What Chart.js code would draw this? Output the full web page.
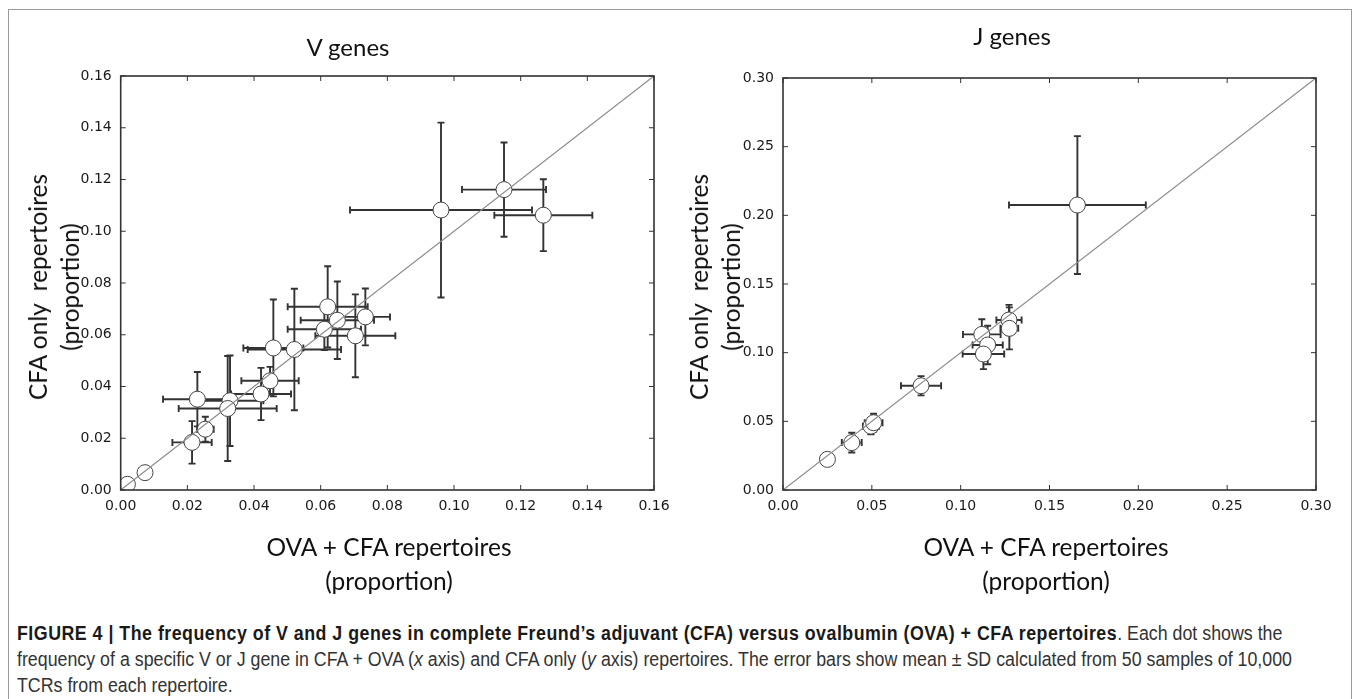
<!DOCTYPE html>
<html>
<head>
<meta charset="utf-8">
<title>Figure 4</title>
<script src="https://cdn.jsdelivr.net/npm/chart.js@4.4.1/dist/chart.umd.min.js"></script>
<style>
  body { margin: 0; background: #fff; }
  #page { position: relative; width: 1357px; height: 699px; overflow: hidden; font-family: Lato, "Open Sans", sans-serif; color: #111; }
  .frame { position: absolute; left: 8px; top: 9px; width: 1342px; height: 720px; border: 1px solid #9a9a9a; }
  canvas { position: absolute; top: 0; }
  .title { position: absolute; font-size: 24px; line-height: 24px; white-space: nowrap; transform: translateX(-50%); }
  .xlab { position: absolute; font-size: 24.5px; line-height: 34px; text-align: center; white-space: nowrap; transform: translateX(-50%); }
  .ylab { position: absolute; font-size: 24.5px; line-height: 32px; text-align: center; white-space: pre; transform: translate(-50%, -50%) rotate(-90deg); }
  .caption { position: absolute; left: 17px; top: 620px; font-family: "Liberation Sans", Arial, sans-serif; font-size: 20px; line-height: 26px; color: #333; white-space: nowrap; transform: scaleX(0.89); transform-origin: 0 0; }
  .caption b { color: #1a1a1a; letter-spacing: 0.55px; }
</style>
</head>
<body>
<div id="page">
  <div class="frame"></div>
  <canvas id="vChart" width="680" height="600" style="left:0"></canvas>
  <canvas id="jChart" width="677" height="600" style="left:680px"></canvas>

  <div class="title" style="left:348px; top:35px">V genes</div>
  <div class="title" style="left:1012px; top:24px">J genes</div>

  <div class="ylab" style="left:54px; top:287px">CFA only  repertoires
(proportion)</div>
  <div class="ylab" style="left:715px; top:287px">CFA only  repertoires
(proportion)</div>

  <div class="xlab" style="left:389px; top:530px">OVA + CFA repertoires<br>(proportion)</div>
  <div class="xlab" style="left:1046px; top:530px">OVA + CFA repertoires<br>(proportion)</div>

  <div class="caption">
    <b>FIGURE 4 | The frequency of V and J genes in complete Freund’s adjuvant (CFA) versus ovalbumin (OVA) + CFA repertoires</b>. Each dot shows the<br>
    frequency of a specific V or J gene in CFA + OVA (<i>x</i> axis) and CFA only (<i>y</i> axis) repertoires. The error bars show mean ± SD calculated from 50 samples of 10,000<br>
    TCRs from each repertoire.
  </div>
</div>

<script>
// V genes: OVA + CFA (x) vs CFA only (y), mean and SD
const vX    = [0.0020, 0.0073, 0.0214, 0.0254, 0.0230, 0.0328, 0.0321, 0.0421, 0.0448, 0.0458, 0.0521, 0.0611, 0.0621, 0.0650, 0.0704, 0.0734, 0.0961, 0.1150, 0.1268];
const vY    = [0.0022, 0.0067, 0.0184, 0.0235, 0.0351, 0.0345, 0.0315, 0.0371, 0.0422, 0.0549, 0.0543, 0.0621, 0.0708, 0.0656, 0.0596, 0.0669, 0.1082, 0.1161, 0.1062];
const vXsd  = [0.0005, 0.0018, 0.0059, 0.0025, 0.0103, 0.0100, 0.0147, 0.0090, 0.0086, 0.0090, 0.0140, 0.0110, 0.0120, 0.0110, 0.0120, 0.0074, 0.0273, 0.0126, 0.0147];
const vYsd  = [0.0005, 0.0012, 0.0082, 0.0048, 0.0105, 0.0175, 0.0203, 0.0101, 0.0054, 0.0187, 0.0235, 0.0080, 0.0157, 0.0150, 0.0160, 0.0110, 0.0338, 0.0182, 0.0139];
const vTicks = [0, 0.02, 0.04, 0.06, 0.08, 0.10, 0.12, 0.14, 0.16];

// J genes
const jX    = [0.0250, 0.0387, 0.0495, 0.0510, 0.0777, 0.1119, 0.1152, 0.1128, 0.1272, 0.1274, 0.1657];
const jY    = [0.0223, 0.0345, 0.0465, 0.0490, 0.0759, 0.1133, 0.1056, 0.0990, 0.1238, 0.1177, 0.2075];
const jXsd  = [0.0010, 0.0056, 0.0045, 0.0050, 0.0113, 0.0106, 0.0085, 0.0117, 0.0071, 0.0050, 0.0385];
const jYsd  = [0.0010, 0.0072, 0.0060, 0.0065, 0.0070, 0.0110, 0.0140, 0.0110, 0.0110, 0.0153, 0.0502];
const jTicks = [0, 0.05, 0.10, 0.15, 0.20, 0.25, 0.30];

const CAP = 3.5;        // half width of error bar caps
const TICK_LEN = 5;     // inward tick marks

// error bars are drawn under the circles, from each point's sd
const errorBars = {
  id: 'errorBars',
  beforeDatasetsDraw(chart) {
    const { ctx, chartArea: a, scales: { x, y } } = chart;
    const ds = chart.data.datasets[1];
    ctx.save();
    ctx.beginPath();
    ctx.rect(a.left, a.top, a.right - a.left, a.bottom - a.top);
    ctx.clip();
    ctx.strokeStyle = '#333';
    ctx.lineWidth = 1.9;
    ds.data.forEach((p, i) => {
      const px = x.getPixelForValue(p.x);
      const py = y.getPixelForValue(p.y);
      const x0 = x.getPixelForValue(p.x - ds.xErr[i]);
      const x1 = x.getPixelForValue(p.x + ds.xErr[i]);
      const y0 = y.getPixelForValue(p.y - ds.yErr[i]);
      const y1 = y.getPixelForValue(p.y + ds.yErr[i]);
      ctx.beginPath();
      ctx.moveTo(x0, py); ctx.lineTo(x1, py);
      ctx.moveTo(x0, py - CAP); ctx.lineTo(x0, py + CAP);
      ctx.moveTo(x1, py - CAP); ctx.lineTo(x1, py + CAP);
      ctx.moveTo(px, y0); ctx.lineTo(px, y1);
      ctx.moveTo(px - CAP, y0); ctx.lineTo(px + CAP, y0);
      ctx.moveTo(px - CAP, y1); ctx.lineTo(px + CAP, y1);
      ctx.stroke();
    });
    ctx.restore();
  }
};

// matplotlib style box with ticks pointing inwards on all four sides
const axesBox = {
  id: 'axesBox',
  afterDatasetsDraw(chart) {
    const { ctx, chartArea: a, scales: { x, y } } = chart;
    ctx.save();
    ctx.strokeStyle = '#333';
    ctx.lineWidth = 1;
    ctx.beginPath();
    x.ticks.forEach(t => {
      const p = x.getPixelForValue(t.value);
      ctx.moveTo(p, a.bottom); ctx.lineTo(p, a.bottom - TICK_LEN);
      ctx.moveTo(p, a.top); ctx.lineTo(p, a.top + TICK_LEN);
    });
    y.ticks.forEach(t => {
      const p = y.getPixelForValue(t.value);
      ctx.moveTo(a.left, p); ctx.lineTo(a.left + TICK_LEN, p);
      ctx.moveTo(a.right, p); ctx.lineTo(a.right - TICK_LEN, p);
    });
    ctx.stroke();
    ctx.lineWidth = 1.6;
    ctx.strokeRect(a.left, a.top, a.right - a.left, a.bottom - a.top);
    ctx.restore();
  }
};

const tickFont = { family: 'DejaVu Sans', size: 14 };

function makeChart(id, xs, ys, xErr, yErr, ticks, area) {
  const max = ticks[ticks.length - 1];
  return new Chart(document.getElementById(id), {
    type: 'scatter',
    data: {
      datasets: [
        {
          type: 'line',
          data: [{ x: 0, y: 0 }, { x: max, y: max }],
          borderColor: '#8c8c8c',
          borderWidth: 1.2,
          pointRadius: 0,
          order: 0
        },
        {
          data: xs.map((v, i) => ({ x: v, y: ys[i] })),
          xErr: xErr,
          yErr: yErr,
          pointRadius: 8,
          pointBackgroundColor: '#fff',
          pointBorderColor: '#444',
          pointBorderWidth: 1,
          order: 1
        }
      ]
    },
    options: {
      responsive: false,
      animation: false,
      devicePixelRatio: 1,
      layout: { padding: { left: 0, top: area.top, right: area.right, bottom: 0 } },
      plugins: { legend: { display: false }, tooltip: { enabled: false } },
      scales: {
        x: {
          type: 'linear', min: 0, max: max,
          afterBuildTicks: s => { s.ticks = ticks.map(v => ({ value: v })); },
          afterFit: s => { s.height = 110; },
          grid: { display: false },
          border: { display: false },
          ticks: { padding: 0, font: tickFont, color: '#1a1a1a', callback: v => Number(v).toFixed(2) }
        },
        y: {
          type: 'linear', min: 0, max: max,
          afterBuildTicks: s => { s.ticks = ticks.map(v => ({ value: v })); },
          afterFit: s => { s.width = area.left; },
          grid: { display: false },
          border: { display: false },
          ticks: { padding: 1, font: tickFont, color: '#1a1a1a', callback: v => Number(v).toFixed(2) }
        }
      }
    },
    plugins: [errorBars, axesBox]
  });
}

makeChart('vChart', vX, vY, vXsd, vYsd, vTicks, { left: 120.7, top: 76, right: 26 });
makeChart('jChart', jX, jY, jXsd, jYsd, jTicks, { left: 103, top: 78, right: 41 });
</script>
</body>
</html>
